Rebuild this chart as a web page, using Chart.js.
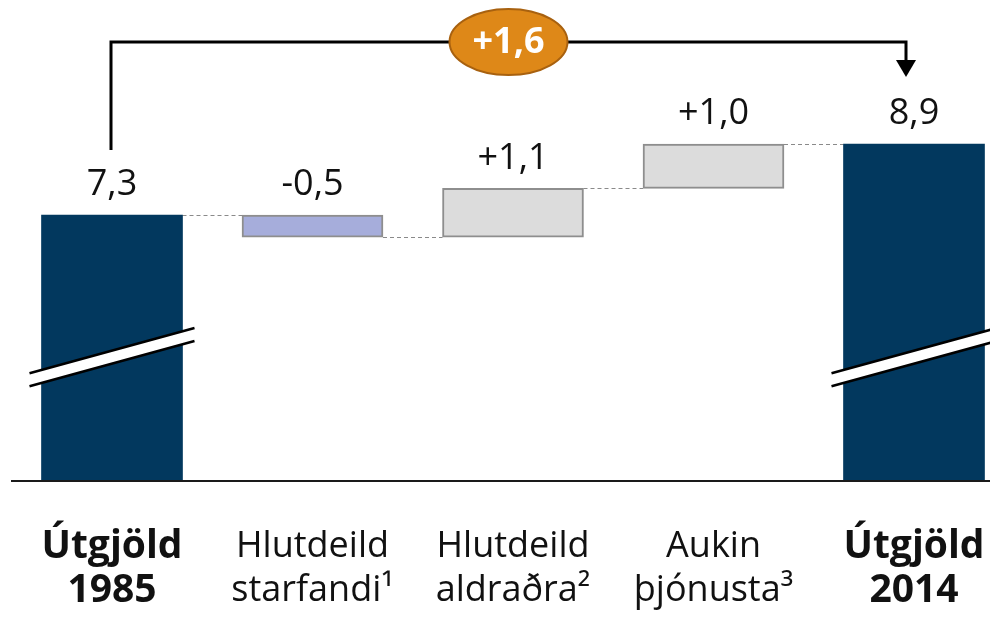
<!DOCTYPE html>
<html>
<head>
<meta charset="utf-8">
<script src="https://cdn.jsdelivr.net/npm/chart.js@4/dist/chart.umd.min.js"></script>
<style>
  html, body { margin: 0; padding: 0; background: #ffffff; }
  canvas { display: block; }
</style>
</head>
<body>
<canvas id="c" width="990" height="617"></canvas>
<script>
// Útgjöld 1985 -> 2014: waterfall of the contributing factors
const categories = [
  ['Útgjöld', '1985'],
  ['Hlutdeild', 'starfandi¹'],
  ['Hlutdeild', 'aldraðra²'],
  ['Aukin', 'þjónusta³'],
  ['Útgjöld', '2014']
];
const startTotal = 7.3;
const changes = [-0.5, 1.1, 1.0];
const endTotal = 8.9;
const totalChange = 1.6;
const isTotal = [true, false, false, false, true];

// broken value axis: the drawn range starts above zero
const Y_FLOOR = 1.3;
const Y_CEIL = 12.15;
const BREAK_AT = 3.73;

const FONT = "'Open Sans', 'DejaVu Sans', sans-serif";
const NAVY = '#02385e';
const TICK_PAD = 44;
const TICK_LINE = 44;

// floating bars: totals rise from the axis floor, changes float on the running sum
const floating = [];
const levels = [];
let running = startTotal;
floating.push([Y_FLOOR, startTotal]);
levels.push(startTotal);
changes.forEach(d => {
  const next = Math.round((running + d) * 10) / 10;
  floating.push([Math.min(running, next), Math.max(running, next)]);
  running = next;
  levels.push(running);
});
floating.push([Y_FLOOR, endTotal]);

const barValues = [startTotal, ...changes, endTotal];
const fmt = (v, signed) => (signed && v > 0 ? '+' : '') + v.toFixed(1).replace('.', ',');
const valueLabels = barValues.map((v, i) => fmt(v, !isTotal[i]));

const fills = barValues.map((v, i) => isTotal[i] ? NAVY : (v < 0 ? '#a6addb' : '#dcdcdc'));
const borders = barValues.map((v, i) => isTotal[i] ? NAVY : '#8e8e8e');

const waterfallDecor = {
  id: 'waterfallDecor',
  beforeDatasetsDraw(chart) {
    const ctx = chart.ctx;
    const meta = chart.getDatasetMeta(0);
    const y = chart.scales.y;
    // dashed connectors between neighbouring bars at the running level
    ctx.save();
    ctx.strokeStyle = '#8a8a8a';
    ctx.lineWidth = 1;
    ctx.setLineDash([4, 3]);
    for (let i = 0; i < meta.data.length - 1; i++) {
      const a = meta.data[i], b = meta.data[i + 1];
      const py = Math.round(y.getPixelForValue(levels[i])) + 0.5;
      ctx.beginPath();
      ctx.moveTo(a.x + a.width / 2, py);
      ctx.lineTo(b.x - b.width / 2, py);
      ctx.stroke();
    }
    ctx.restore();
  },
  afterDatasetsDraw(chart) {
    const ctx = chart.ctx;
    const meta = chart.getDatasetMeta(0);
    const y = chart.scales.y;
    const area = chart.chartArea;

    // base line
    ctx.save();
    ctx.strokeStyle = '#1a1a1a';
    ctx.lineWidth = 2;
    ctx.beginPath();
    ctx.moveTo(11, area.bottom);
    ctx.lineTo(chart.width, area.bottom);
    ctx.stroke();

    // axis-break marks across the two total bars
    const slope = -0.274;
    const gap = 13;
    [0, meta.data.length - 1].forEach(i => {
      const bar = meta.data[i];
      const x0 = bar.x - bar.width / 2 - 12;
      const x1 = bar.x + bar.width / 2 + 12;
      const y0 = y.getPixelForValue(BREAK_AT);
      const y1 = y0 + (x1 - x0) * slope;
      ctx.fillStyle = '#ffffff';
      ctx.beginPath();
      ctx.moveTo(x0, y0);
      ctx.lineTo(x1, y1);
      ctx.lineTo(x1, y1 + gap);
      ctx.lineTo(x0, y0 + gap);
      ctx.closePath();
      ctx.fill();
      ctx.strokeStyle = '#000000';
      ctx.lineWidth = 2.5;
      ctx.beginPath();
      ctx.moveTo(x0, y0); ctx.lineTo(x1, y1);
      ctx.moveTo(x0, y0 + gap); ctx.lineTo(x1, y1 + gap);
      ctx.stroke();
    });

    // value labels above each bar
    ctx.fillStyle = '#111111';
    ctx.font = '36px ' + FONT;
    ctx.textAlign = 'center';
    ctx.textBaseline = 'middle';
    meta.data.forEach((bar, i) => {
      const top = Math.min(bar.y, bar.base);
      ctx.fillText(valueLabels[i], bar.x, top - 30);
    });

    // bracket from the first total to the last, with the overall change
    const first = meta.data[0], last = meta.data[meta.data.length - 1];
    const xl = first.x - 1;
    const xr = last.x - 8;
    const yTop = y.getPixelForValue(endTotal) - 102;
    const yStart = y.getPixelForValue(startTotal) - 65;
    const yTip = y.getPixelForValue(endTotal) - 67;
    ctx.strokeStyle = '#000000';
    ctx.lineWidth = 3;
    ctx.lineJoin = 'miter';
    ctx.beginPath();
    ctx.moveTo(xl, yStart);
    ctx.lineTo(xl, yTop);
    ctx.lineTo(xr, yTop);
    ctx.lineTo(xr, yTip - 14);
    ctx.stroke();
    ctx.fillStyle = '#000000';
    ctx.beginPath();
    ctx.moveTo(xr - 10, yTip - 17);
    ctx.lineTo(xr + 10, yTip - 17);
    ctx.lineTo(xr, yTip);
    ctx.closePath();
    ctx.fill();

    const cx = (xl + xr) / 2;
    ctx.fillStyle = '#de8818';
    ctx.strokeStyle = '#a8610f';
    ctx.lineWidth = 2;
    ctx.beginPath();
    ctx.ellipse(cx, yTop, 59, 33, 0, 0, Math.PI * 2);
    ctx.fill();
    ctx.stroke();
    ctx.fillStyle = '#ffffff';
    ctx.font = 'bold 36px ' + FONT;
    ctx.fillText(fmt(totalChange, true), cx, yTop + 1);
    ctx.restore();
  }
};

new Chart(document.getElementById('c'), {
  type: 'bar',
  data: {
    labels: categories,
    datasets: [{
      data: floating,
      backgroundColor: fills,
      borderColor: borders,
      borderWidth: barValues.map((v, i) => isTotal[i] ? 0 : 2),
      borderSkipped: false,
      barThickness: 141,
      clip: false
    }]
  },
  options: {
    responsive: false,
    animation: false,
    events: [],
    layout: { padding: { left: 112, right: 76, top: 0, bottom: 4 } },
    plugins: { legend: { display: false }, tooltip: { enabled: false } },
    scales: {
      x: {
        offset: false,
        grid: { display: false, drawTicks: false },
        border: { display: false },
        afterFit: (scale) => {
          scale.paddingLeft = 0;
          scale.paddingRight = 0;
          scale.height = TICK_PAD + 2 * TICK_LINE;
        },
        ticks: {
          color: '#111111',
          maxRotation: 0,
          autoSkip: false,
          padding: TICK_PAD,
          font: (c) => {
            const bold = c.index === 0 || c.index === categories.length - 1;
            return { family: FONT, size: bold ? 39 : 36, lineHeight: TICK_LINE + 'px', weight: bold ? 'bold' : 'normal' };
          }
        }
      },
      y: {
        display: false,
        min: Y_FLOOR,
        max: Y_CEIL
      }
    }
  },
  plugins: [waterfallDecor]
});
</script>
</body>
</html>
